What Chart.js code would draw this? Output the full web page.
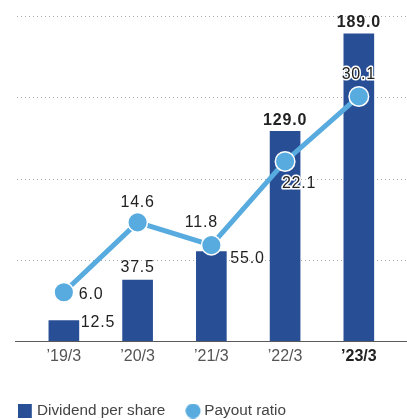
<!DOCTYPE html>
<html>
<head>
<meta charset="utf-8">
<script src="https://cdn.jsdelivr.net/npm/chart.js@4"></script>
<style>
  html, body { margin: 0; padding: 0; background: #fff; }
</style>
</head>
<body>
<canvas id="dividends" width="407" height="420"></canvas>
<script>
const years = ['\u201919/3', '\u201920/3', '\u201921/3', '\u201922/3', '\u201923/3'];
const dividendPerShare = [12.5, 37.5, 55.0, 129.0, 189.0];
const payoutRatio = [6.0, 14.6, 11.8, 22.1, 30.1];
const dividendRange = [0, 200];
const dividendStep = 50;
const ratioRange = [0, 40];

const FONT = "'Liberation Sans', Arial, Helvetica, sans-serif";
const navy = '#284E96';
const skyBlue = '#58ABDF';

// where each value label sits, relative to its bar top / point
const barLabelPlacement = [
  { dx: 17, dy: 2, align: 'left', bold: false },
  { dx: 0, dy: -12, align: 'center', bold: false },
  { dx: 19, dy: 7, align: 'left', bold: false },
  { dx: 0, dy: -11, align: 'center', bold: true },
  { dx: 0, dy: -11, align: 'center', bold: true }
];
const pointLabelPlacement = [
  { dx: 15, dy: 2, align: 'left' },
  { dx: 0, dy: -20, align: 'center' },
  { dx: -10, dy: -23, align: 'center' },
  { dx: 14, dy: 22, align: 'center' },
  { dx: 0, dy: -22, align: 'center' }
];

function makeIcon(w, h, draw) {
  const c = document.createElement('canvas');
  c.width = w;
  c.height = h;
  draw(c.getContext('2d'));
  return c;
}
const legendIcons = [
  makeIcon(21, 14, g => { g.fillStyle = navy; g.fillRect(0, 0, 14, 14); }),
  makeIcon(21, 15, g => {
    g.fillStyle = skyBlue;
    g.beginPath();
    g.arc(7.9, 7.5, 7.5, 0, Math.PI * 2);
    g.fill();
  })
];

const dottedGrid = {
  id: 'dottedGrid',
  beforeDatasetsDraw(chart) {
    const { ctx, scales: { y }, width } = chart;
    ctx.save();
    ctx.strokeStyle = '#a8a8a8';
    ctx.lineWidth = 1;
    ctx.setLineDash([1, 3]);
    y.ticks.forEach(t => {
      if (t.value === 0) return;
      const py = Math.round(y.getPixelForValue(t.value)) + 0.5;
      ctx.beginPath();
      ctx.moveTo(17, py);
      ctx.lineTo(width, py);
      ctx.stroke();
    });
    ctx.restore();
  },
  afterDatasetsDraw(chart) {
    const { ctx, scales: { y }, width } = chart;
    const py = Math.round(y.getPixelForValue(0)) + 0.5;
    ctx.save();
    ctx.strokeStyle = '#5a5a5a';
    ctx.lineWidth = 1;
    ctx.beginPath();
    ctx.moveTo(15, py);
    ctx.lineTo(width, py);
    ctx.stroke();
    ctx.restore();
  }
};

const valueLabels = {
  id: 'valueLabels',
  afterDatasetsDraw(chart) {
    const ctx = chart.ctx;
    ctx.save();
    ctx.textBaseline = 'middle';
    ctx.letterSpacing = '0.8px';

    const bars = chart.getDatasetMeta(0).data;
    const barValues = chart.data.datasets[0].data;
    bars.forEach((bar, i) => {
      const p = barLabelPlacement[i];
      ctx.font = (p.bold ? 'bold ' : '') + '16px ' + FONT;
      ctx.textAlign = p.align;
      ctx.fillStyle = '#222';
      ctx.fillText(barValues[i].toFixed(1), bar.x + p.dx, bar.y + p.dy);
    });

    const points = chart.getDatasetMeta(1).data;
    const ratioValues = chart.data.datasets[1].data;
    points.forEach((pt, i) => {
      const p = pointLabelPlacement[i];
      const txt = ratioValues[i].toFixed(1);
      ctx.font = '16px ' + FONT;
      ctx.textAlign = p.align;
      ctx.lineJoin = 'round';
      ctx.lineWidth = 3;
      ctx.strokeStyle = '#fff';
      ctx.strokeText(txt, pt.x + p.dx, pt.y + p.dy);
      ctx.fillStyle = '#222';
      ctx.fillText(txt, pt.x + p.dx, pt.y + p.dy);
    });
    ctx.restore();
  }
};

new Chart(document.getElementById('dividends').getContext('2d'), {
  type: 'bar',
  data: {
    labels: years,
    datasets: [{
      type: 'bar',
      label: 'Dividend per share',
      data: dividendPerShare,
      backgroundColor: navy,
      barThickness: 30,
      yAxisID: 'y',
      order: 1
    }, {
      type: 'line',
      label: 'Payout ratio',
      data: payoutRatio,
      borderColor: skyBlue,
      borderWidth: 5,
      pointRadius: 9.8,
      pointBackgroundColor: skyBlue,
      pointBorderColor: '#fff',
      pointBorderWidth: 1.5,
      tension: 0,
      yAxisID: 'y2',
      order: 0
    }]
  },
  options: {
    responsive: false,
    animation: false,
    layout: {
      padding: { top: 16, right: 10, left: -2, bottom: 0 }
    },
    scales: {
      x: {
        grid: { display: false, drawTicks: false },
        border: { display: false },
        ticks: {
          padding: 6,
          maxRotation: 0,
          autoSkip: false,
          color: ctx => ctx.index === 4 ? '#222' : '#555',
          font: ctx => ({ family: FONT, size: 16, weight: ctx.index === 4 ? 'bold' : 'normal' })
        },
        afterFit: s => { s.height = 33.05; }
      },
      y: {
        position: 'left',
        min: dividendRange[0],
        max: dividendRange[1],
        grid: { display: false },
        border: { display: false },
        ticks: { display: false, stepSize: dividendStep },
        afterFit: s => { s.width = 29; }
      },
      y2: {
        position: 'right',
        display: false,
        min: ratioRange[0],
        max: ratioRange[1]
      }
    },
    plugins: {
      legend: {
        position: 'bottom',
        align: 'start',
        maxHeight: 45.95,
        labels: {
          usePointStyle: true,
          boxWidth: 2,
          boxHeight: 15,
          padding: 29.3,
          color: '#444',
          font: { family: FONT, size: 15.3 },
          generateLabels: chart => chart.data.datasets.map((ds, i) => ({
            text: ds.label,
            pointStyle: legendIcons[i],
            fillStyle: i === 0 ? navy : skyBlue,
            strokeStyle: 'transparent',
            lineWidth: 0,
            fontColor: '#444',
            hidden: !chart.isDatasetVisible(i),
            datasetIndex: i
          }))
        }
      },
      tooltip: { enabled: false }
    }
  },
  plugins: [dottedGrid, valueLabels]
});
</script>
</body>
</html>
